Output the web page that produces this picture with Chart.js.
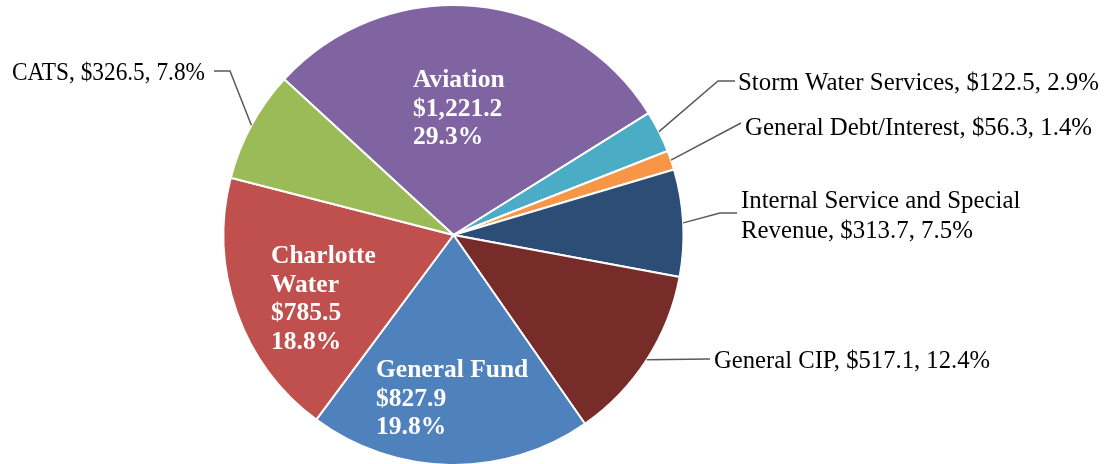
<!DOCTYPE html>
<html>
<head>
<meta charset="utf-8">
<script src="https://cdn.jsdelivr.net/npm/chart.js@4.4.1/dist/chart.umd.min.js"></script>
<style>
html,body{margin:0;padding:0;background:#fff;}
#wrap{width:1118px;height:464px;position:relative;}
canvas{display:block;}
</style>
</head>
<body>
<div id="wrap"><canvas id="c" width="1118" height="464"></canvas></div>
<script>
// ---- data ----
const categories = ["Aviation","Storm Water Services","General Debt/Interest","Internal Service and Special Revenue","General CIP","General Fund","Charlotte Water","CATS"];
const amounts = [1221.2, 122.5, 56.3, 313.7, 517.1, 827.9, 785.5, 326.5];
const percents = [29.3, 2.9, 1.4, 7.5, 12.4, 19.8, 18.8, 7.8];
const colors = ["#8064A2","#4BACC6","#F79646","#2C4D75","#772C2A","#4F81BD","#C0504D","#9BBB59"];

// ---- label layout (positions only) ----
const FONT = "'Liberation Serif', 'DejaVu Serif', serif";
const insideLabels = {
  0: {x: 413, y: 87, lines: ["Aviation", "$1,221.2", "29.3%"]},
  6: {x: 271, y: 263, lines: ["Charlotte", "Water", "$785.5", "18.8%"]},
  5: {x: 376, y: 377, lines: ["General Fund", "$827.9", "19.8%"]}
};
const outsideLabels = {
  7: {x: 12, y: 80, maxW: 193, elbow: [230, 71], lineEnd: [214, 71]},
  1: {x: 738, y: 90, maxW: 362, elbow: [718, 81], lineEnd: [735, 81]},
  2: {x: 745, y: 135, maxW: 352, elbow: null, lineEnd: [741, 123]},
  3: {x: 741, y: 208, maxW: 284, multi: ["Internal Service and Special", "Revenue, $313.7, 7.5%"], elbow: [720, 213], lineEnd: [737, 213]},
  4: {x: 714, y: 368, maxW: 276, elbow: null, lineEnd: [710, 359]}
};

function fmtAmt(v){ return "$" + v.toLocaleString("en-US",{minimumFractionDigits:1, maximumFractionDigits:1}); }

const labelPlugin = {
  id: "labelPlugin",
  afterDatasetsDraw(chart){
    const ctx = chart.ctx;
    const meta = chart.getDatasetMeta(0);
    ctx.save();
    ctx.font = "100px " + FONT;
    const ow = ctx.measureText("Storm Water Services, $122.5, 2.9%").width;
    const outSize = 361 / ow * 100;
    ctx.font = "bold 100px " + FONT;
    const iw1 = ctx.measureText("General Fund").width;
    const iw2 = ctx.measureText("$1,221.2").width;
    const inSize = (146 / iw1 * 100 + 93 / iw2 * 100) / 2;

    // inside labels
    ctx.fillStyle = "#ffffff";
    ctx.font = "bold " + inSize.toFixed(2) + "px " + FONT;
    ctx.textAlign = "left";
    ctx.textBaseline = "alphabetic";
    Object.keys(insideLabels).forEach(k => {
      const L = insideLabels[k];
      L.lines.forEach((t, j) => ctx.fillText(t, L.x, L.y + j * 28.5));
    });

    // outside labels
    ctx.font = outSize.toFixed(2) + "px " + FONT;
    ctx.fillStyle = "#000000";
    ctx.strokeStyle = "#595959";
    ctx.lineWidth = 1.5;
    Object.keys(outsideLabels).forEach(k => {
      const i = +k;
      const L = outsideLabels[k];
      const arc = meta.data[i];
      const mid = (arc.startAngle + arc.endAngle) / 2;
      const ax = arc.x + Math.cos(mid) * arc.outerRadius;
      const ay = arc.y + Math.sin(mid) * arc.outerRadius;
      ctx.beginPath();
      ctx.moveTo(ax, ay);
      if (L.elbow) ctx.lineTo(L.elbow[0], L.elbow[1]);
      ctx.lineTo(L.lineEnd[0], L.lineEnd[1]);
      ctx.stroke();
      const lines = L.multi ? L.multi : [categories[i] + ", " + fmtAmt(amounts[i]) + ", " + percents[i].toFixed(1) + "%"];
      lines.forEach((t, j) => {
        const w = ctx.measureText(t).width;
        if (w > L.maxW) ctx.fillText(t, L.x, L.y + j * 29.5, L.maxW);
        else ctx.fillText(t, L.x, L.y + j * 29.5);
      });
    });
    ctx.restore();
  }
};

new Chart(document.getElementById("c"), {
  type: "pie",
  data: {
    labels: categories,
    datasets: [{
      data: amounts,
      backgroundColor: colors,
      borderColor: "#ffffff",
      borderWidth: 2,
      radius: 230
    }]
  },
  options: {
    responsive: false,
    animation: false,
    rotation: -47.4,
    layout: {padding: {left: 0, right: 211, top: 6, bottom: 0}},
    plugins: {legend: {display: false}, tooltip: {enabled: false}}
  },
  plugins: [labelPlugin]
});
</script>
</body>
</html>
